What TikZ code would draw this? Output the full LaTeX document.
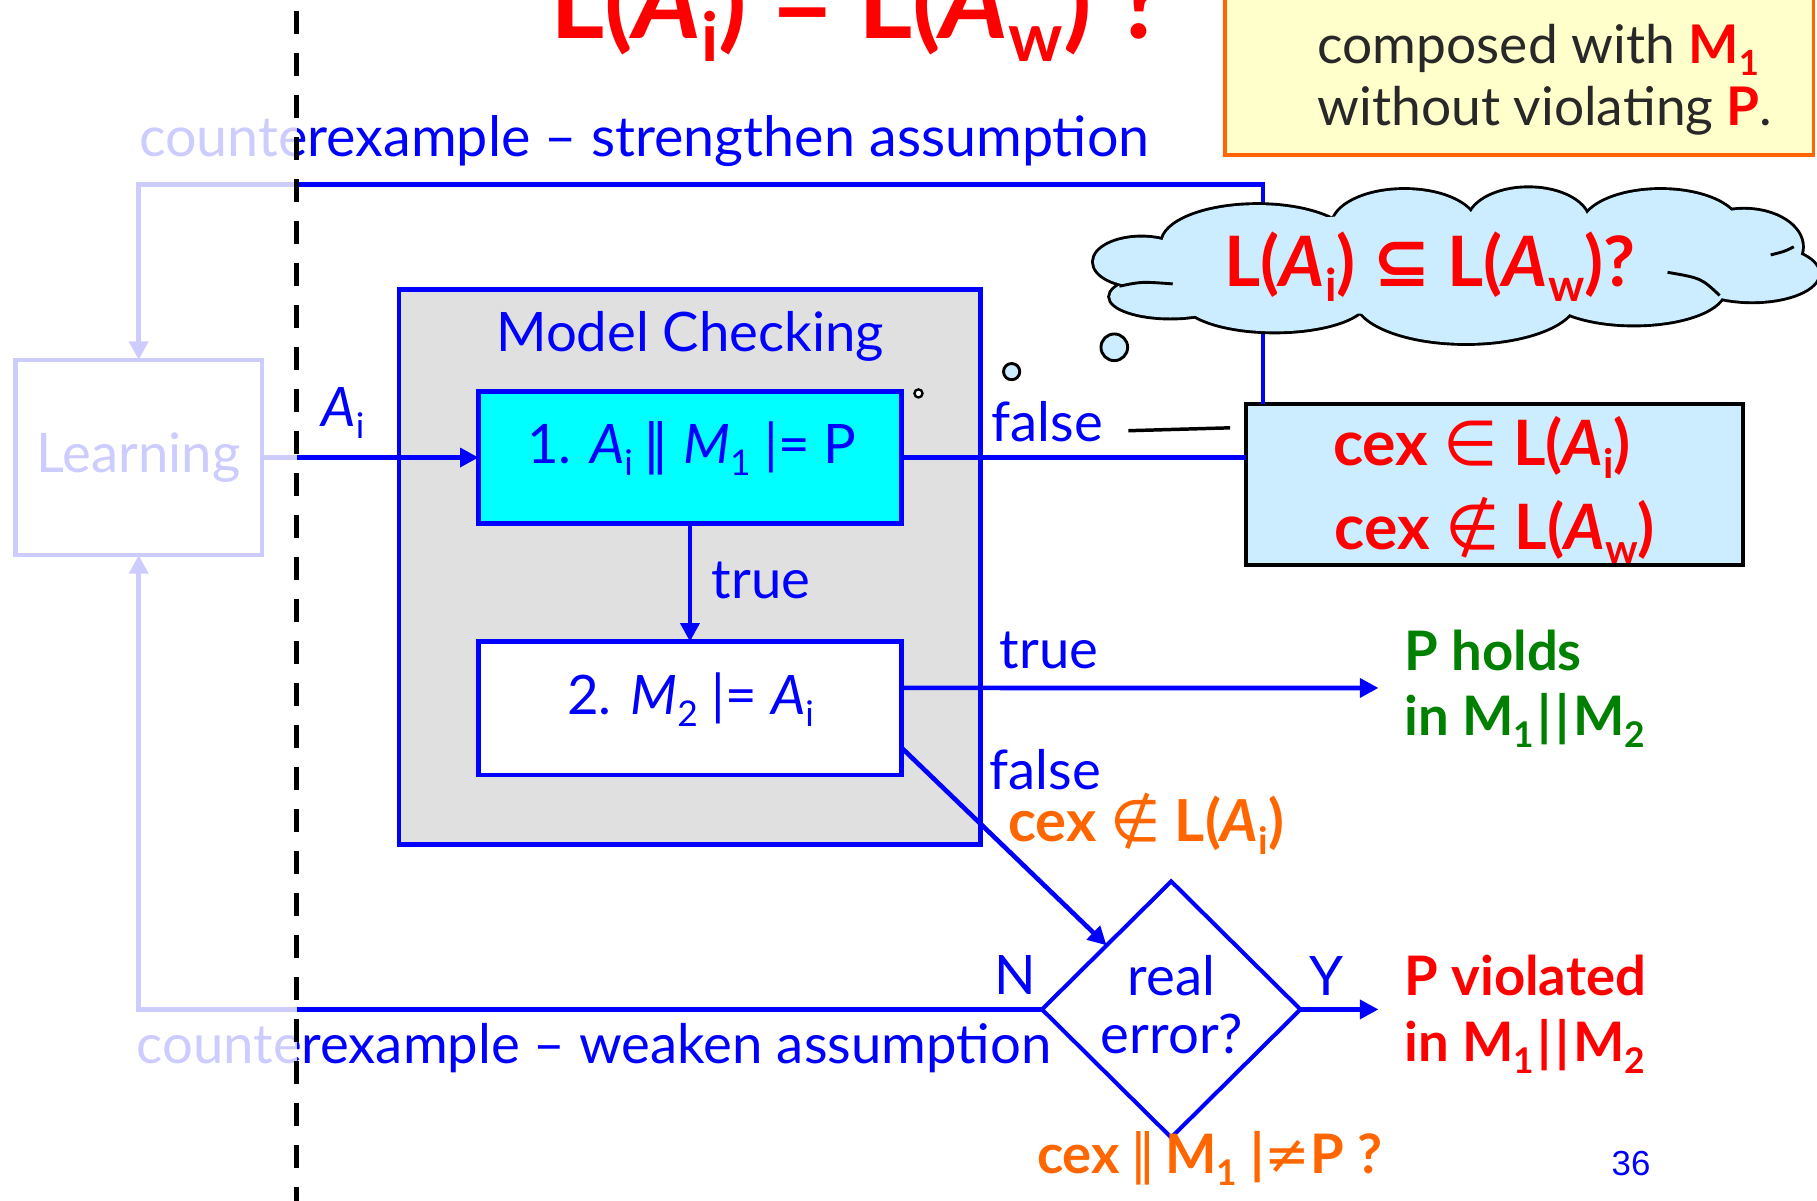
\documentclass[tikz,border=0pt]{standalone}
\usepackage{fontspec}
\setmainfont{Lato}
\newfontfamily\symfont{DejaVu Sans}
\newfontfamily\slidenumfont{Liberation Sans}
\usepackage{graphicx}
\usetikzlibrary{arrows.meta,shapes.geometric}

\definecolor{pblue}{RGB}{0,0,255}
\definecolor{pred}{RGB}{255,0,0}
\definecolor{pgreen}{RGB}{0,128,0}
\definecolor{porange}{RGB}{255,102,0}
\definecolor{pcyan}{RGB}{0,255,255}
\definecolor{cloudblue}{RGB}{204,236,255}
\definecolor{mcgray}{RGB}{224,224,224}
\definecolor{notefill}{RGB}{255,255,204}
\definecolor{notetext}{RGB}{40,40,40}

% subscripts, operator glyphs and the parallel bars
\newcommand\lo[1]{\raisebox{-0.22em}{\scalebox{0.65}{#1}}}
\newcommand\op[1]{{\symfont\mdseries #1}}
\newcommand\opb[1]{{\symfont\bfseries #1}}
\newcommand\parbars{\kern1.5pt|\kern1.5pt|\kern1.5pt}

\tikzset{
  every node/.style={inner sep=0pt, outer sep=0pt},
  conn/.style={draw=pblue, line width=2pt, -{Triangle[length=8pt,width=8pt]}},
  wire/.style={draw=pblue, line width=2pt},
  boxs/.style={draw=pblue, line width=2pt},
  btxt/.style={text=pblue, font=\fontsize{23.5pt}{28pt}\selectfont},
  redb/.style={text=pred, font=\fontsize{23.5pt}{28pt}\selectfont\bfseries},
  greenb/.style={text=pgreen, font=\fontsize{23.5pt}{28pt}\selectfont\bfseries},
  orangeb/.style={text=porange, font=\fontsize{25pt}{28pt}\selectfont\bfseries},
  notetxt/.style={text=notetext, font=\fontsize{23pt}{28pt}\selectfont},
  bubble/.style={circle, draw=black, line width=1.25pt, fill=cloudblue},
  fold/.style={black, line width=1.25pt},
}

\begin{document}
\begin{tikzpicture}[x=0.5pt, y=-0.5pt]
\useasboundingbox (0,0) rectangle (1568,1036);

% title and note
\node[text=pred, font=\fontsize{45pt}{50pt}\selectfont\bfseries, anchor=base west] (title) at (475,33)
  {L(\textit{A}\lo{i}) = L(\textit{A}\lo{w}) ?};
\node[draw=porange, line width=1.5pt, fill=notefill, minimum width=254pt, minimum height=85pt, anchor=south west] (note) at (1057,133.8) {};
\node[notetxt, anchor=base west] (note1) at (1137,54.7) {composed with \textcolor{pred}{\bfseries M\lo{1}}};
\node[notetxt, anchor=base west] (note2) at (1137,107.9) {without violating \textcolor{pred}{\bfseries P}.};

% learning box and model checking block
\node[boxs, fill=white, minimum width=106.5pt, minimum height=84.15pt, btxt] (learn) at (119.7,394.85) {Learning};
\node[boxs, fill=mcgray, minimum width=250.8pt, minimum height=239.5pt] (mc) at (595.2,489.5) {};
\node[btxt, anchor=base] (mctitle) at (595.5,303.5) {Model Checking};
\node[boxs, fill=pcyan, minimum width=182.4pt, minimum height=56.8pt] (box1) at (595.4,394.8) {};
\node[btxt, anchor=base] (box1t) at (597,400) {1. \textit{A}\lo{i}\,\op{∥}\ \textit{M}\lo{1} |= P};
\node[boxs, fill=white, minimum width=182.4pt, minimum height=57.5pt] (box2) at (595.4,611.25) {};
\node[btxt, anchor=base] (box2t) at (596,617) {2. \textit{M}\lo{2} |= \textit{A}\lo{i}};

% counterexample box
\node[draw=black, line width=1.75pt, fill=cloudblue, minimum width=214.2pt, minimum height=69.5pt] (cexbox) at (1289.8,418.1) {};
\node[redb, font=\fontsize{27pt}{30pt}\selectfont\bfseries, anchor=base] (cex1) at (1279,401.3) {cex \op{∈} L(\textit{A}\lo{i})};
\node[redb, font=\fontsize{27pt}{30pt}\selectfont\bfseries, anchor=base] (cex2) at (1290,474.6) {cex \op{∉} L(\textit{A}\lo{w})};

% decision
\node[diamond, draw=pblue, line width=1.75pt, fill=white, minimum width=111.5pt, minimum height=110.5pt] (dia) at (1010.7,871.1) {};
\node[btxt, anchor=base] (real) at (1011,859.5) {real};
\node[btxt, anchor=base] (err) at (1011.5,909) {error?};

% connectors
\coordinate (tr) at (1090,159.1);
\draw[conn] (tr |- cexbox.north) -- (tr) -| (learn.north);
\draw[conn] (learn) -- (box1);
\draw[conn] (box1) -- (box2);
\draw[wire] (box1.east) -- (box1.east -| cexbox.west);
\coordinate (holdsend) at (1189.6,593.7);
\draw[conn] ([yshift=8.8pt]box2.east) -- (holdsend);
\draw[conn] ([yshift=-16.9pt]box2.east) -- (dia.north west);
\coordinate (violend) at (1189.6,871.1);
\draw[conn] (dia.east) -- (violend);
\draw[conn] (dia.west) -| (learn.south);
\coordinate (callA) at (973.7,371.7);
\coordinate (callB) at (1061.5,369.2);
\draw[black, line width=1.5pt] (callA) -- (callB);

% connector labels
\node[btxt, anchor=base west] (ai) at (277.4,368.2) {\textit{A}\lo{i}};
\node[btxt, anchor=base west] (t1) at (614.3,516.4) {true};
\node[btxt, anchor=base west] (f1) at (855.8,381.2) {false};
\node[btxt, anchor=base west] (t2) at (862.8,577.2) {true};
\node[btxt, anchor=base west] (f2) at (854,681) {false};
\node[orangeb, anchor=base west] (notin) at (870,726) {cex \op{∉} L(\textit{A}\lo{i})};
\node[btxt, anchor=base west] (nlab) at (858,858) {N};
\node[btxt, anchor=base west] (ylab) at (1130,859.5) {Y};
\node[btxt, font=\fontsize{24pt}{28pt}\selectfont, anchor=base west] (strong) at (120,135.2) {counterexample – strengthen assumption};
\node[btxt, anchor=base west] (weak) at (118,917.6) {counterexample – weaken assumption};
\node[greenb, anchor=base west] (hold1) at (1212,578.9) {P holds};
\node[greenb, anchor=base west] (hold2) at (1212,635) {in M\lo{1}\parbars M\lo{2}};
\node[redb, anchor=base west] (viol1) at (1212,859.5) {P violated};
\node[redb, anchor=base west] (viol2) at (1212,915.7) {in M\lo{1}\parbars M\lo{2}};
\node[orangeb, font=\fontsize{23.5pt}{28pt}\selectfont\bfseries, anchor=base west] (query) at (895,1013) {cex\,\op{∥}\,M\lo{1}\ |\op{≠}P\ ?};
\node[text=pblue, font=\slidenumfont\fontsize{15pt}{18pt}\selectfont, anchor=base] (pagenum) at (1407.5,1014.8) {36};

% thought cloud: outlined lobes, then filled over
\foreach \cx/\cy/\rx/\ry in {985/226/41/21, 1010/256/52/18, 1085/210/82/33, 1212/195/62/31, 1319/192/52/29.5, 1433/196/68/32, 1505/213/50/32, 1512/236/57/24, 1410/250/78/30, 1265/258/95/38, 1100/258/80/28}
  \draw[black, line width=2.5pt] (\cx,\cy) ellipse [x radius=\rx, y radius=\ry];
\foreach \cx/\cy/\rx/\ry in {985/226/41/21, 1010/256/52/18, 1085/210/82/33, 1212/195/62/31, 1319/192/52/29.5, 1433/196/68/32, 1505/213/50/32, 1512/236/57/24, 1410/250/78/30, 1265/258/95/38, 1100/258/80/28, 1250/228/240/45}
  \fill[cloudblue] (\cx,\cy) ellipse [x radius=\rx, y radius=\ry];
% inner folds of the cloud
\coordinate (foldL1) at (966,247);   \coordinate (foldL2) at (1012,245);
\coordinate (foldR1) at (1528,220);  \coordinate (foldR2) at (1548,213);
\coordinate (foldB1) at (1439,235);  \coordinate (foldB2) at (1484,255);
\draw[fold] (foldL1) .. controls (985,243) .. (foldL2);
\draw[fold] (foldR1) .. controls (1540,217) .. (foldR2);
\draw[fold] (foldB1) .. controls (1468,240) .. (foldB2);
\node[text=pred, font=\fontsize{30pt}{34pt}\selectfont\bfseries, anchor=base] (cloudtxt) at (1234,247)
  {L(\textit{A}\lo{i}) \opb{⊆} L(\textit{A}\lo{w})?};
\node[bubble, minimum size=11.5pt] (bub3) at (961.6,299.7) {};
\node[bubble, minimum size=7pt] (bub2) at (873,320.7) {};
\node[circle, draw=black, line width=1pt, fill=white, minimum size=3.5pt] (bub1) at (792.6,339.5) {};

% faded part left of the divider
\fill[white, opacity=0.8] (0,0) rectangle (256,1036);
\coordinate (dtop) at (256,9.5);
\coordinate (dbot) at (256,1036);
\draw[black, line width=2.1pt, dash pattern=on 10pt off 8.125pt] (dtop) -- (dbot);
\end{tikzpicture}
\end{document}
